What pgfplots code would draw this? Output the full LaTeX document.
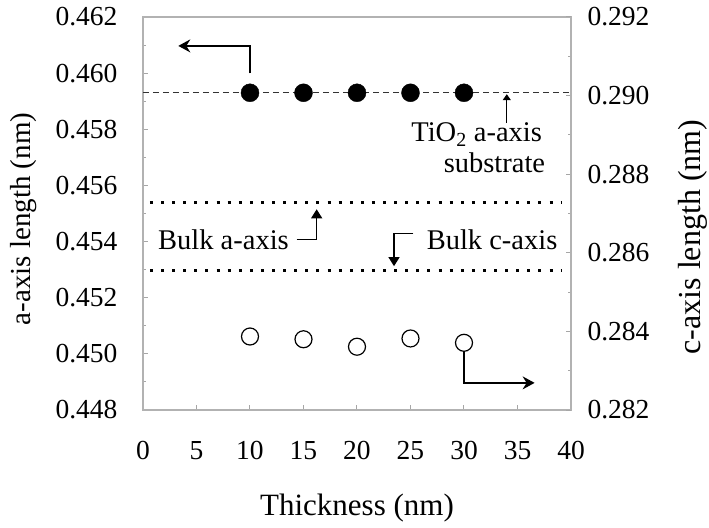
\documentclass[border=0pt]{standalone}
\usepackage{fontspec}
\setmainfont{Liberation Serif}
\usepackage{pgfplots}
\pgfplotsset{compat=1.18}
\usetikzlibrary{arrows.meta}
\newcommand{\tickfont}{\fontsize{27.5bp}{32bp}\selectfont}
\begin{document}
\begin{tikzpicture}
\useasboundingbox (-143bp,-118bp) rectangle (566bp,410bp);
\pgfplotsset{
  common/.style={
    at={(0,0)}, anchor=south west,
    scale only axis, width=428bp, height=393bp,
    xmin=0, xmax=40,
    scaled y ticks=false,
    tick align=inside,
    major tick length=5bp,
    minor tick length=3bp,
    tick style={gray!70, line width=1bp},
    axis line style={gray!60, line width=2bp},
  }
}
\begin{axis}[common,
  ymin=0.448, ymax=0.462,
  ytick={0.448,0.450,0.452,0.454,0.456,0.458,0.460,0.462},
  minor y tick num=1,
  xtick={0,5,10,15,20,25,30,35,40},
  ytick pos=left, xtick pos=bottom,
  yticklabel={\tickfont\pgfmathprintnumber[fixed,fixed zerofill,precision=3,assume math mode=true]{\tick}},
  xticklabel={\tickfont\pgfmathprintnumber[assume math mode=true]{\tick}},
  yticklabel style={xshift=-22bp},
  xticklabel style={yshift=-27.5bp},
  xlabel={Thickness (nm)},
  xlabel style={at={(axis description cs:0.5,-0.2494)}, anchor=center, font=\fontsize{31bp}{36bp}\selectfont},
  ylabel={a-axis length (nm)},
  ylabel style={at={(axis description cs:-0.278,0.486)}, anchor=center, font=\fontsize{29bp}{34bp}\selectfont},
]
% TiO2 substrate a-axis (dashed)
\addplot[gray!40!black, line width=0.8bp, dash pattern=on 6bp off 4bp] coordinates {(0,0.4593) (40,0.4593)};
% Bulk a-axis (dotted)
\addplot[black, line width=3bp, dash pattern=on 3bp off 8.1bp] coordinates {(0.65,0.4554) (39.1,0.4554)};
% a-axis lengths
\addplot[only marks, mark=*, mark size=9bp, black] coordinates {
(10,0.4593) (15,0.4593) (20,0.4593) (25,0.4593) (30,0.4593)};
% arrow to left axis
\draw[black, line width=1.5bp, -{Stealth[length=12bp,width=13bp,inset=4bp]}]
  (axis cs:10,0.45999) -- (axis cs:10,0.46097) -- (axis cs:3.3,0.46097);
% TiO2 annotation
\draw[black, line width=1.2bp, -{Triangle[length=6bp,width=8bp]}]
  (axis cs:34,0.45822) -- (axis cs:34,0.45925);
\node[anchor=east, inner sep=0pt, font=\fontsize{28.5bp}{32bp}\selectfont] at (axis cs:37.3,0.4578) {TiO\textsubscript{2} a-axis};
\node[anchor=east, inner sep=0pt, font=\fontsize{28.5bp}{32bp}\selectfont] at (axis cs:37.6,0.4568) {substrate};
% Bulk a-axis annotation
\node[anchor=west, inner sep=0pt, font=\fontsize{28.5bp}{32bp}\selectfont] at (axis cs:1.4,0.45408) {Bulk a-axis};
\draw[black, line width=1.2bp, -{Triangle[length=9bp,width=11bp]}]
  (axis cs:14.36,0.45408) -- (axis cs:16.23,0.45408) -- (axis cs:16.23,0.45515);
\end{axis}
\begin{axis}[common,
  ymin=0.282, ymax=0.292,
  ytick={0.282,0.284,0.286,0.288,0.290,0.292},
  minor y tick num=1,
  axis x line=none,
  axis y line*=right,
  yticklabel={\tickfont\pgfmathprintnumber[fixed,fixed zerofill,precision=3,assume math mode=true]{\tick}},
  yticklabel style={xshift=13bp},
  ylabel={c-axis length (nm)},
  ylabel style={at={(axis description cs:1.285,0.44)}, anchor=center, font=\fontsize{32bp}{36bp}\selectfont},
]
% Bulk c-axis (dotted)
\addplot[black, line width=3bp, dash pattern=on 3bp off 8.1bp] coordinates {(0.65,0.28556) (39.1,0.28556)};
% c-axis lengths
\addplot[only marks, mark=o, mark size=8.5bp, black, line width=1.2bp] coordinates {
(10,0.28387) (15,0.28380) (20,0.28361) (25,0.28382) (30,0.28371)};
% arrow to right axis
\draw[black, line width=1.5bp, -{Stealth[length=12bp,width=13bp,inset=4bp]}]
  (axis cs:30,0.28350) -- (axis cs:30,0.28269) -- (axis cs:36.6,0.28269);
% Bulk c-axis annotation
\node[anchor=west, inner sep=0pt, font=\fontsize{28.5bp}{32bp}\selectfont] at (axis cs:26.5,0.28634) {Bulk c-axis};
\draw[black, line width=1.2bp, -{Triangle[length=9bp,width=11bp]}]
  (axis cs:25.26,0.28650) -- (axis cs:23.46,0.28650) -- (axis cs:23.46,0.28566);
\end{axis}
\end{tikzpicture}
\end{document}
